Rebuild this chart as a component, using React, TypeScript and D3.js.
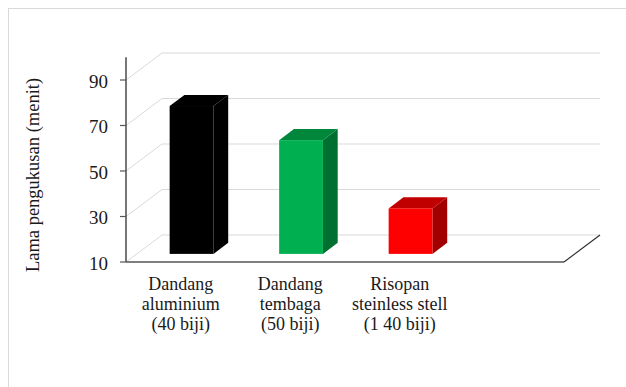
import React from "react";
import * as d3 from "d3";

const categories: string[][] = [
  ["Dandang", "aluminium", "(40 biji)"],
  ["Dandang", "tembaga", "(50 biji)"],
  ["Risopan", "steinless stell", "(1 40 biji)"],
];
const values: number[] = [75, 60, 30];
const frontColors = ["#000000", "#00B050", "#FF0000"];
const topColors = ["#000000", "#00873C", "#C00000"];
const sideColors = ["#000000", "#007030", "#A00000"];
const yTicks: number[] = [10, 30, 50, 70, 90];
const yTitle = "Lama pengukusan (menit)";
const slotCount = 4;

const W = 626;
const H = 387;
const x0 = 126;
const x1 = 564;
const depthX = 36;
const depthY = -27;
const font = "Liberation Serif, serif";

export default function App() {
  const y = d3.scaleLinear().domain([10, 100]).range([262, 57.25]);
  const x = d3
    .scaleBand<number>()
    .domain(d3.range(slotCount))
    .range([x0, x1])
    .paddingInner(0.6)
    .paddingOuter(0.3);
  const bw = x.bandwidth();
  const fOff = 0.3;
  const fDepth = 0.41;
  const ox = depthX * fOff;
  const oy = depthY * fOff;
  const bdx = depthX * fDepth;
  const bdy = depthY * fDepth;

  return (
    <div style={{ position: "absolute", left: 0, top: 0 }}>
      <svg width={W} height={H} style={{ display: "block", fontFamily: font }}>
        <rect x={0} y={0} width={W} height={H} fill="#fff" />
        <rect x={8.5} y={8.5} width={800} height={600} fill="none" stroke="#d9d9d9" strokeWidth={1} />
        {yTicks.map((t) => (
          <g key={t}>
            <line x1={x0 + depthX} x2={x1 + depthX} y1={y(t) + depthY} y2={y(t) + depthY} stroke="#d9d9d9" strokeWidth={1.2} />
            <line x1={x0} x2={x0 + depthX} y1={y(t)} y2={y(t) + depthY} stroke="#d9d9d9" strokeWidth={1} />
          </g>
        ))}
        <line x1={x0} x2={x1} y1={y(10)} y2={y(10)} stroke="#555" strokeWidth={1.6} />
        <line x1={x1} x2={x1 + depthX} y1={y(10)} y2={y(10) + depthY} stroke="#333" strokeWidth={1.2} />
        <line x1={x0} x2={x0} y1={y(100)} y2={y(10)} stroke="#555" strokeWidth={1.6} />
        {yTicks.map((t) => (
          <g key={"t" + t}>
            <line x1={x0 - 6} x2={x0} y1={y(t)} y2={y(t)} stroke="#555" strokeWidth={1.2} />
            <text x={108} y={y(t)} dy="0.4em" textAnchor="end" style={{ fontFamily: font }} fontSize={19} fill="#1a1a1a">
              {t}
            </text>
          </g>
        ))}
        {values.map((v, i) => {
          const left = (x(i) as number) + ox;
          const right = left + bw;
          const top = y(v) + oy;
          const bottom = y(10) + oy;
          return (
            <g key={i}>
              <polygon
                points={`${right},${top} ${right + bdx},${top + bdy} ${right + bdx},${bottom + bdy} ${right},${bottom}`}
                fill={sideColors[i]}
              />
              <polygon
                points={`${left},${top} ${left + bdx},${top + bdy} ${right + bdx},${top + bdy} ${right},${top}`}
                fill={topColors[i]}
              />
              <rect x={left} y={top} width={bw} height={bottom - top} fill={frontColors[i]} />
            </g>
          );
        })}
        {categories.map((lines, i) => {
          const cx = (x(i) as number) + bw / 2;
          return (
            <text key={i} textAnchor="middle" style={{ fontFamily: font }} fontSize={18} fill="#1a1a1a">
              {lines.map((l, j) => (
                <tspan key={j} x={cx} y={290 + j * 20}>
                  {l}
                </tspan>
              ))}
            </text>
          );
        })}
        <text
          transform={`translate(33,175) rotate(-90)`}
          dy="0.35em"
          textAnchor="middle"
          style={{ fontFamily: font }}
          fontSize={18.5}
          fill="#1a1a1a"
        >
          {yTitle}
        </text>
      </svg>
    </div>
  );
}
